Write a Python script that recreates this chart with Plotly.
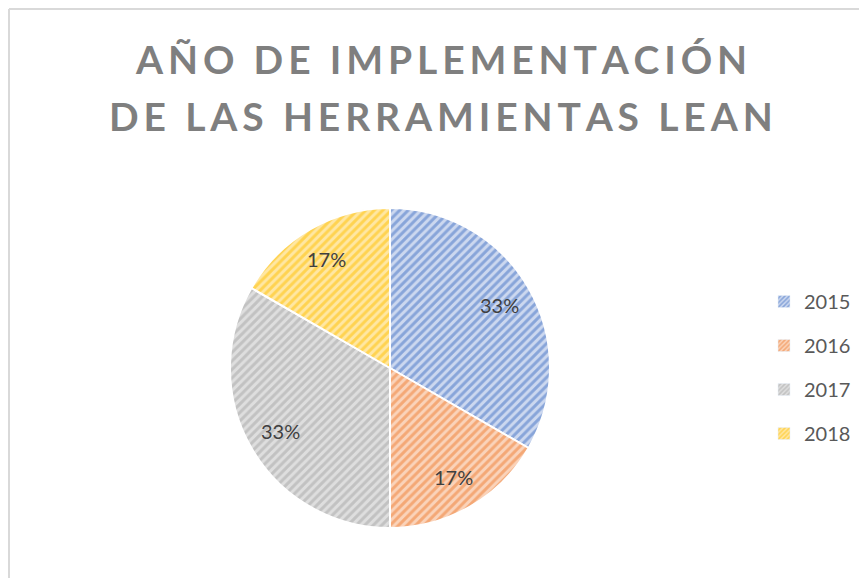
import math
import plotly.graph_objects as go

# ---- data ----
categories = ["2015", "2016", "2017", "2018"]
values = [2, 1, 2, 1]
title_lines = ["AÑO DE IMPLEMENTACIÓN", "DE LAS HERRAMIENTAS LEAN"]

# ---- styles ----
fg_colors = ["#4472C4", "#ED7D31", "#A5A5A5", "#FFC000"]
bg_colors = ["#CCD8EF", "#FAD3BA", "#DEDEDE", "#FFE7A3"]

W, H = 867, 578

# pie geometry (pixels, within figure)
PCX, PCY, PR = 382, 360, 160


def spaced(s, sep="\u2009"):
    return sep.join(list(s))


fig = go.Figure()

fig.add_trace(go.Pie(
    labels=categories,
    values=values,
    sort=False,
    direction="clockwise",
    rotation=0,
    textinfo="none",
    marker=dict(
        colors=bg_colors,
        line=dict(color="white", width=2),
        pattern=dict(shape="/", fgcolor=fg_colors, bgcolor=bg_colors,
                     size=6, solidity=0.5, fillmode="overlay"),
    ),
    domain=dict(x=[(PCX - PR) / W, (PCX + PR) / W],
                y=[(H - PCY - PR) / H, (H - PCY + PR) / H]),
    showlegend=False,
    hoverinfo="label+percent",
))

# percentage labels placed at slice mid-angles (derived from the values)
total = sum(values)
cum = 0
for v in values:
    mid = (cum + v / 2) / total * 2 * math.pi
    cum += v
    r = 0.79 * PR
    px = PCX + r * math.sin(mid)
    py = PCY - r * math.cos(mid)
    fig.add_annotation(text=f"{round(100 * v / total)}%", x=px / W, y=(H - py) / H,
                       xref="paper", yref="paper", showarrow=False,
                       xanchor="center", yanchor="middle",
                       font=dict(family="Lato", size=20, color="#404040"))

# legend proxies
for i, cat in enumerate(categories):
    fig.add_trace(go.Bar(
        x=[None], y=[None], name=cat, legendgroup=cat,
        marker=dict(color=bg_colors[i],
                    pattern=dict(shape="/", fgcolor=fg_colors[i], bgcolor=bg_colors[i],
                                 size=4, solidity=0.5, fillmode="overlay")),
        showlegend=True,
    ))

title_font = dict(family="Lato", size=39, color="#7F7F7F", weight="bold")
fig.add_annotation(text=spaced(title_lines[0]), x=433 / W, y=(H - 51) / H,
                   xref="paper", yref="paper", showarrow=False,
                   xanchor="center", yanchor="middle", font=title_font)
fig.add_annotation(text=spaced(title_lines[1]), x=433 / W, y=(H - 108) / H,
                   xref="paper", yref="paper", showarrow=False,
                   xanchor="center", yanchor="middle", font=title_font)

# chart border (top and left edges)
fig.add_shape(type="line", xref="paper", yref="paper",
              x0=1 / W, x1=1, y0=(H - 1) / H, y1=(H - 1) / H,
              line=dict(color="#D9D9D9", width=2))
fig.add_shape(type="line", xref="paper", yref="paper",
              x0=1 / W, x1=1 / W, y0=0, y1=(H - 1) / H,
              line=dict(color="#D9D9D9", width=2))

fig.update_layout(
    width=W, height=H,
    margin=dict(l=0, r=0, t=0, b=0),
    paper_bgcolor="white", plot_bgcolor="white",
    xaxis=dict(visible=False), yaxis=dict(visible=False),
    legend=dict(x=756 / W, y=(H - 359.5) / H, xanchor="left", yanchor="middle",
                traceorder="grouped", tracegroupgap=15,
                font=dict(family="Lato", size=20, color="#595959"),
                bgcolor="rgba(0,0,0,0)"),
    font=dict(family="Lato"),
)

fig.write_html("out.html")
